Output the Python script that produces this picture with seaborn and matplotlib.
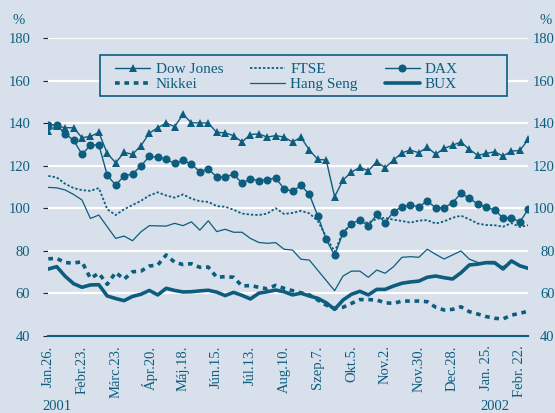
import numpy as np
import pandas as pd
import matplotlib
matplotlib.use("Agg")
import matplotlib.pyplot as plt
from matplotlib.patches import Rectangle
import seaborn as sns

# ---------------- data ----------------
tick_labels = ["Jan.26.", "Febr.23.", "Márc.23.", "Ápr.20.", "Máj.18.", "Jún.15.",
               "Júl.13.", "Aug.10.", "Szep.7.", "Okt.5.", "Nov.2.", "Nov.30.",
               "Dec.28.", "Jan. 25.", "Febr. 22."]
year_labels = ["2001", "2002"]

dow = [136.5, 138.7, 137.9, 137.9, 133.2, 133.8, 135.7, 125.8, 121.4, 126.3,
       125.4, 129.4, 135.4, 137.9, 140.1, 138.4, 144.2, 140.2, 140.2, 140.1,
       135.7, 135.5, 134.2, 131.2, 134.7, 135.0, 133.5, 134.2, 133.5, 131.2,
       133.4, 127.4, 123.0, 122.7, 105.4, 113.3, 117.0, 119.3, 117.6, 121.9,
       119.1, 122.7, 126.1, 127.4, 126.1, 128.8, 125.4, 128.2, 129.6, 131.2,
       127.7, 124.9, 125.8, 126.6, 124.6, 126.9, 127.2, 132.4]
dax = [139.3, 139.3, 135.1, 132.0, 125.4, 129.6, 129.9, 115.5, 110.9, 115.2,
       116.1, 119.9, 124.4, 124.0, 123.0, 121.1, 122.5, 120.7, 117.2, 118.5,
       114.7, 114.7, 116.0, 111.8, 113.8, 113.0, 113.5, 114.2, 109.2, 107.9,
       110.8, 106.5, 96.4, 85.4, 77.8, 88.5, 92.7, 94.6, 91.6, 97.1,
       93.2, 98.4, 100.7, 101.5, 100.7, 103.4, 100.2, 100.2, 102.6, 107.0,
       104.7, 102.0, 100.4, 99.2, 95.4, 95.6, 93.5, 99.6]
ftse = [115.2, 114.5, 111.5, 109.5, 108.5, 108.2, 109.5, 99.5, 96.8, 99.5,
        101.5, 103.5, 106.0, 107.5, 106.0, 105.0, 106.5, 104.5, 103.3, 103.0,
        101.0, 100.7, 99.3, 97.5, 97.0, 96.8, 97.5, 100.0, 97.3, 97.8,
        98.8, 97.6, 94.0, 86.6, 79.5, 88.9, 92.1, 93.5, 93.2, 95.0,
        95.5, 94.6, 94.0, 93.2, 94.2, 94.4, 92.8, 93.8, 95.5, 96.5,
        94.8, 92.8, 92.1, 92.0, 91.3, 93.0, 91.2, 92.0]
hang_seng = [109.8, 109.6, 108.6, 106.5, 103.9, 95.2, 96.8, 91.3, 85.8, 86.9,
             84.7, 88.9, 91.8, 91.7, 91.6, 92.9, 91.8, 93.6, 89.7, 94.1,
             89.0, 90.1, 88.7, 88.7, 85.8, 83.9, 83.5, 83.8, 80.7, 80.3,
             76.0, 75.6, 70.8, 66.0, 61.2, 68.1, 70.4, 70.4, 67.5, 70.9,
             69.4, 72.5, 76.9, 77.2, 76.9, 80.7, 78.3, 76.1, 78.0, 79.9,
             76.0, 74.5, 74.0, 73.8, 72.5, 74.8, 73.0, 72.0]
nikkei = [76.2, 76.4, 74.4, 74.2, 74.8, 67.0, 69.4, 64.2, 69.8, 66.6,
          70.1, 70.4, 72.8, 73.3, 78.0, 74.6, 73.5, 73.9, 72.2, 72.3,
          67.5, 67.8, 67.5, 63.4, 63.6, 62.8, 62.1, 63.7, 62.3, 61.2,
          60.2, 59.2, 56.8, 54.4, 52.9, 53.4, 55.2, 57.0, 57.0, 56.8,
          55.5, 55.2, 56.3, 56.3, 56.3, 56.0, 53.4, 52.1, 52.4, 53.6,
          51.3, 50.2, 49.0, 48.2, 47.9, 49.7, 50.5, 51.6]
bux = [71.4, 72.5, 68.0, 64.5, 62.8, 63.9, 64.0, 58.7, 57.5, 56.5,
       58.5, 59.5, 61.3, 59.2, 62.3, 61.3, 60.6, 60.7, 61.1, 61.4,
       60.5, 58.9, 60.4, 59.0, 57.3, 60.0, 60.7, 61.5, 60.7, 59.2,
       60.0, 58.7, 57.6, 55.5, 52.4, 56.8, 59.5, 60.9, 59.2, 61.8,
       61.8, 63.4, 64.7, 65.3, 65.7, 67.5, 68.1, 67.3, 66.7, 69.6,
       73.3, 73.7, 74.4, 74.4, 71.4, 75.2, 72.9, 71.7]

weeks = np.arange(len(dow))
df = pd.DataFrame({"week": weeks, "Dow Jones": dow, "FTSE": ftse, "DAX": dax,
                   "Nikkei": nikkei, "Hang Seng": hang_seng, "BUX": bux})

# ---------------- style ----------------
BG = "#d8e0eb"
C = "#0d5d7f"
sns.set_style("white")
plt.rcParams["font.family"] = ["Liberation Serif", "DejaVu Serif"]

fig = plt.figure(figsize=(5.55, 4.13), dpi=100, facecolor=BG)
ax = fig.add_axes([48.3 / 555, 1 - 335.7 / 413, 480 / 555, (335.7 - 38.3) / 413])
ax.set_facecolor(BG)

styles = {
    "Dow Jones": dict(lw=1.0, marker="^", markersize=5.5, ls="-"),
    "FTSE": dict(lw=1.3, ls=(0, (1.3, 1.1))),
    "DAX": dict(lw=1.0, marker="o", markersize=5.8, ls="-"),
    "Nikkei": dict(lw=2.6, ls=(0, (1.3, 1.3))),
    "Hang Seng": dict(lw=0.9, ls="-"),
    "BUX": dict(lw=2.6, ls="-"),
}
for name in ["Hang Seng", "FTSE", "Nikkei", "BUX", "DAX", "Dow Jones"]:
    st = styles[name]
    sns.lineplot(data=df, x="week", y=name, ax=ax, color=C, label=name,
                 linewidth=st["lw"], linestyle=st["ls"],
                 marker=st.get("marker"), markersize=st.get("markersize", 0),
                 markeredgewidth=0, markerfacecolor=C, zorder=3)

ax.set_xlim(0, 57)
ax.set_ylim(40, 180)
ax.set_xlabel("")
ax.set_ylabel("")
ax.set_yticks(np.arange(40, 181, 20))
ax.set_xticks(np.arange(0, 57, 4))
ax.set_xticklabels(tick_labels, rotation=90, va="top", ha="center")

# grid
for yv in np.arange(60, 181, 20):
    ax.axhline(yv, color="white", lw=1.6, zorder=1)

for s in ["left", "right", "top"]:
    ax.spines[s].set_visible(False)
ax.spines["bottom"].set_color(C)
ax.spines["bottom"].set_linewidth(1.5)
ax.spines["bottom"].set_zorder(4)

ax.tick_params(axis="x", direction="out", length=3, width=1.2, color=C,
               labelcolor=C, labelsize=10.5, pad=4)
ax.tick_params(axis="y", left=False, right=False, labelcolor=C,
               labelsize=10.5, pad=9.5)

ax2 = ax.twinx()
ax2.set_ylim(40, 180)
ax2.set_yticks(np.arange(40, 181, 20))
ax2.tick_params(axis="y", right=False, left=False, labelcolor=C,
                labelsize=10.5, pad=15.5)
for lab in ax2.get_yticklabels():
    lab.set_horizontalalignment("right")
for s in ax2.spines.values():
    s.set_visible(False)

# % signs and years
fig.text(18.5 / 555, 1 - 20 / 413, "%", color=C, fontsize=10.5, ha="center", va="center")
fig.text(545.5 / 555, 1 - 20 / 413, "%", color=C, fontsize=10.5, ha="center", va="center")
fig.text(57 / 555, 1 - 406 / 413, year_labels[0], color=C, fontsize=10.5, ha="center", va="center")
fig.text(495 / 555, 1 - 406 / 413, year_labels[1], color=C, fontsize=10.5, ha="center", va="center")

# legend box
box = Rectangle((100 / 555, 1 - 95.7 / 413), 407 / 555, 40.7 / 413,
                transform=fig.transFigure, facecolor=BG, edgecolor=C,
                lw=1.2, zorder=4, clip_on=False)
ax.add_patch(box)

handles, labels = ax.get_legend_handles_labels()
order = ["Dow Jones", "Nikkei", "FTSE", "Hang Seng", "DAX", "BUX"]
hmap = dict(zip(labels, handles))
leg = ax.legend([hmap[k] for k in order], order, ncol=3, frameon=False,
                loc="upper left", bbox_to_anchor=(103 / 555, 1 - 50 / 413),
                bbox_transform=fig.transFigure, fontsize=11,
                handlelength=2.3, handletextpad=0.35, columnspacing=1.75,
                labelspacing=0.12, borderpad=0.3)
for t in leg.get_texts():
    t.set_color(C)
leg.set_zorder(5)
ax2.set_zorder(-1)
ax.set_zorder(1)
ax.patch.set_visible(True)

fig.savefig("out.png", dpi=100, facecolor=BG)
